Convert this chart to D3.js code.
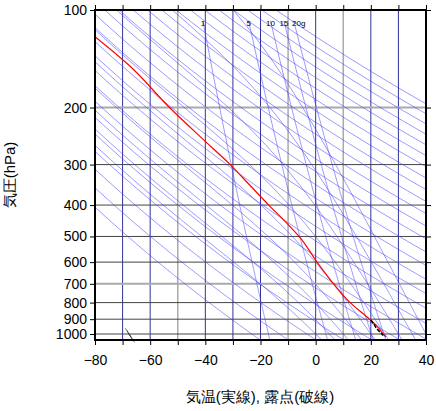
<!DOCTYPE html><html><head><meta charset="utf-8"><script src="https://cdn.jsdelivr.net/npm/d3@7"></script>
<style>body{margin:0;background:#fff}text{font-family:"Liberation Sans",Arial,sans-serif}</style></head><body><svg id="c" width="436" height="411"></svg><script>
const xTicks=[-80,-60,-40,-20,0,20,40];
const pTicks=[100,200,300,400,500,600,700,800,900,1000];
const isotherms=[-70,-60,-50,-40,-30,-20,-10,0,10,20,30];
const grayIso=[-50,-10,10];
const thetas=[250,260,270,280,290,300,310,320,330,340,350,360,370,380,390,400,410,420,430,440,450,460,470,480,490,500];
const moistT=[0,5,10,15,20,25,30,35,40];
const mixRatios=[1,5,10,15,20];
const tempP=[121,150,200,250,300,350,400,450,500,600,700,800,900,950,1000,1020];
const tempT=[-80,-67,-53,-41,-31,-23.5,-17,-11,-6,0.5,6.5,12.5,19.5,22.5,24.5,25.5];
const dewP=[905,930,960,990,1010];
const dewT=[20,21,22,23.5,24.5];

const svg=d3.select("#c");
const L=95,R=426,T=10,B=340;
const x=d3.scaleLinear().domain([-80,40]).range([L,R]);
const y=d3.scaleLog().domain([100,1000]).range([T,334]);
svg.append("clipPath").attr("id","cp").append("rect").attr("x",L).attr("y",T).attr("width",R-L).attr("height",B-T);
const g=svg.append("g").attr("clip-path","url(#cp)");
const line=d3.line().x(d=>x(d[1])).y(d=>y(d[0]));
const pmax=1050;
const ps=d3.range(100,pmax+1,5);
isotherms.forEach(t=>g.append("line").attr("x1",x(t)).attr("x2",x(t)).attr("y1",T).attr("y2",B)
 .attr("stroke",grayIso.includes(t)?"#aaa":"#33339a").attr("stroke-width",grayIso.includes(t)?1.5:1));
pTicks.forEach(p=>g.append("line").attr("x1",L).attr("x2",R).attr("y1",y(p)).attr("y2",y(p))
 .attr("stroke",p==200||p==700?"#aaa":"#444").attr("stroke-width",p==200||p==700?2:1));
const blue="rgba(60,60,255,0.75)";
thetas.forEach(th=>g.append("path").attr("d",line(ps.map(p=>[p,th*Math.pow(p/1000,0.286)-273.15]))).attr("fill","none").attr("stroke",blue).attr("stroke-width",0.7));
function es(t){return 6.112*Math.exp(17.67*t/(t+243.5));}
moistT.forEach(t0=>{let t=t0+273.15,pts=[[1000,t0]];
 // extend down to pmax
 const Lv=2.5e6,Rd=287,cp=1004,eps=0.622;
 const rate=(p,t)=>{const e=es(t-273.15),rs=0.622*e/(p-e);return (Rd*t+Lv*rs)/(p*(cp+Lv*Lv*rs*eps/(Rd*t*t)));};
 let tb=t;for(let p=1000;p<pmax;p+=1){tb+=rate(p,tb);} pts.unshift([pmax,tb-273.15]);
 for(let p=1000;p>100;p-=1){t-=rate(p,t); if((p-1)%5==0)pts.push([p-1,t-273.15]);}
 g.append("path").attr("d",line(pts)).attr("fill","none").attr("stroke",blue).attr("stroke-width",0.7);});
mixRatios.forEach(w=>{const pts=d3.range(108,pmax+1,4).map(p=>{const e=w*p/(622+w),l=Math.log(e/6.112);return [p,243.5*l/(17.67-l)];});
 g.append("path").attr("d",line(pts)).attr("fill","none").attr("stroke",blue).attr("stroke-width",0.7);
 const e=w*108/(622+w),l=Math.log(e/6.112);
 svg.append("text").attr("x",x(243.5*l/(17.67-l))+(w==20?5:0)).attr("y",26).attr("font-size",8).attr("text-anchor","middle").text(w==20?"20g":w);});
g.append("path").attr("d",d3.line().x(d=>x(d[1])).y(d=>y(d[0])).curve(d3.curveMonotoneY)(tempP.map((p,i)=>[p,tempT[i]]))).attr("fill","none").attr("stroke","red").attr("stroke-width",1.2);
g.append("path").attr("d",line(dewP.map((p,i)=>[p,dewT[i]]))).attr("fill","none").attr("stroke","black").attr("stroke-width",1.5).attr("stroke-dasharray","4,1.5");
const bx=x(-69),by=y(960);
[0,2.5,5].forEach(o=>svg.append("line").attr("x1",bx+o*0.6).attr("y1",by+o).attr("x2",bx+6+o*0.6).attr("y2",by+9+o).attr("stroke","#333").attr("stroke-width",0.7));
svg.append("rect").attr("x",L).attr("y",T).attr("width",R-L).attr("height",B-T).attr("fill","none").attr("stroke","#000").attr("stroke-width",2);
const ax=svg.append("g").attr("transform",`translate(0,${B})`).call(d3.axisBottom(x).tickValues(d3.range(-80,41,10)).tickSize(5).tickFormat(d=>xTicks.includes(d)?(d<0?"\u2212"+(-d):d):""));
ax.select(".domain").remove();ax.selectAll("text").attr("font-size",14).attr("dy","1.2em").attr("font-family","Liberation Sans");
const ay=svg.append("g").attr("transform",`translate(${L},0)`).call(d3.axisLeft(y).tickValues(pTicks).tickSize(5).tickFormat(d3.format("d")));
ay.select(".domain").remove();ay.selectAll("text").attr("font-size",14).attr("font-family","Liberation Sans");
const ay2=svg.append("g").attr("transform",`translate(${R},0)`).call(d3.axisRight(y).tickValues(pTicks).tickSize(5).tickFormat(""));ay2.select(".domain").remove();
const ax2=svg.append("g").attr("transform",`translate(0,${T})`).call(d3.axisTop(x).tickValues(d3.range(-80,41,10)).tickSize(5).tickFormat(""));ax2.select(".domain").remove();
svg.append("text").attr("x",260).attr("y",402).attr("text-anchor","middle").attr("font-size",15).attr("font-family","Noto Sans CJK JP").text("気温(実線), 露点(破線)");
svg.append("text").attr("transform","translate(15,175) rotate(-90)").attr("text-anchor","middle").attr("font-size",15).attr("font-family","Noto Sans CJK JP").text("気圧(hPa)");
</script></body></html>
